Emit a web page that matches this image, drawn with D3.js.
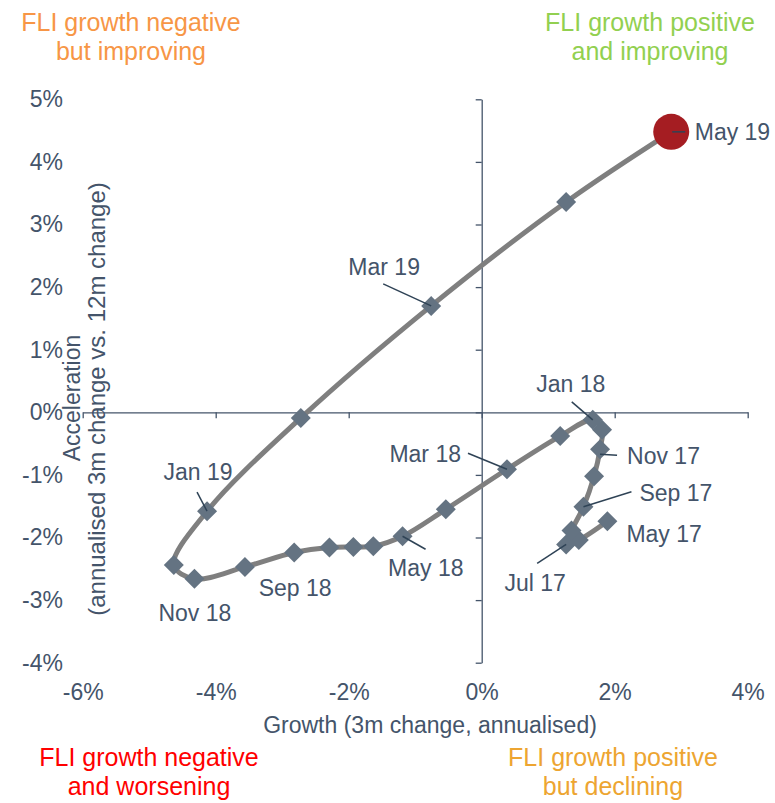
<!DOCTYPE html>
<html>
<head>
<meta charset="utf-8">
<script src="https://cdn.jsdelivr.net/npm/d3@7"></script>
<style>
  body { margin: 0; background: #fff; }
  svg text { font-family: "Liberation Sans", Arial, sans-serif; }
</style>
</head>
<body>
<svg id="chart" width="775" height="803"></svg>
<script>
// months along the path, oldest first
const months = ['May 17','Jun 17','Jul 17','Aug 17','Sep 17','Oct 17','Nov 17','Dec 17',
                'Jan 18','Feb 18','Mar 18','Apr 18','May 18','Jun 18','Jul 18','Aug 18',
                'Sep 18','Oct 18','Nov 18','Dec 18','Jan 19','Feb 19','Mar 19','Apr 19','May 19'];
// growth, 3m change annualised (%)
const growth = [1.89, 1.46, 1.27, 1.35, 1.53, 1.69, 1.78, 1.81,
                1.67, 1.18, 0.38, -0.54, -1.19, -1.63, -1.93, -2.29,
                -2.82, -3.56, -4.32, -4.63, -4.13, -2.72, -0.76, 1.27, 2.85];
// acceleration, 3m vs 12m change (%)
const accel = [-1.74, -2.04, -2.11, -1.89, -1.51, -1.02, -0.59, -0.28,
               -0.12, -0.38, -0.91, -1.55, -1.98, -2.14, -2.15, -2.16,
               -2.24, -2.47, -2.66, -2.44, -1.58, -0.09, 1.70, 3.36, 4.48];
const labelled = ['May 17','Jul 17','Sep 17','Nov 17','Jan 18','Mar 18','May 18',
                  'Sep 18','Nov 18','Jan 19','Mar 19','May 19'];
const xTicks = [-6, -4, -2, 0, 2, 4];
const yTicks = [-4, -3, -2, -1, 0, 1, 2, 3, 4, 5];

const svg = d3.select('#chart');
const textCol = '#44546a';
const fontSize = 23;

const x = d3.scaleLinear().domain([-6, 4]).range([82.7, 747.7]);
const y = d3.scaleLinear().domain([-4, 5]).range([662.7, 99.3]);

// axes crossing at origin
svg.append('g')
    .attr('transform', 'translate(0,' + y(0) + ')')
    .call(d3.axisBottom(x).tickValues(xTicks).tickSize(6).tickSizeOuter(0).tickFormat(''))
    .call(g => g.selectAll('path,line').attr('stroke', textCol).attr('stroke-width', 1.3));

svg.append('g')
    .attr('transform', 'translate(' + x(0) + ',0)')
    .call(d3.axisLeft(y).tickValues(yTicks).tickSize(6).tickSizeOuter(0).tickFormat(''))
    .call(g => g.selectAll('path,line').attr('stroke', textCol).attr('stroke-width', 1.3));

// tick labels at the chart edges
svg.append('g')
    .attr('transform', 'translate(0,' + y(-4) + ')')
    .call(d3.axisBottom(x).tickValues(xTicks).tickSize(0).tickPadding(21).tickFormat(d => d + '%'))
    .call(g => g.select('.domain').remove())
    .call(g => g.selectAll('text').attr('fill', textCol).attr('font-size', fontSize)
        .attr('font-family', '"Liberation Sans", Arial, sans-serif'));

svg.append('g')
    .attr('transform', 'translate(63,0)')
    .call(d3.axisLeft(y).tickValues(yTicks).tickSize(0).tickPadding(0).tickFormat(d => d + '%'))
    .call(g => g.select('.domain').remove())
    .call(g => g.selectAll('text').attr('fill', textCol).attr('font-size', fontSize)
        .attr('font-family', '"Liberation Sans", Arial, sans-serif'));

// axis titles
svg.append('text').attr('x', 430).attr('y', 733).attr('text-anchor', 'middle')
    .attr('fill', textCol).attr('font-size', fontSize)
    .text('Growth (3m change, annualised)');

svg.append('text').attr('transform', 'translate(80,398) rotate(-90)').attr('text-anchor', 'middle')
    .attr('fill', textCol).attr('font-size', fontSize).text('Acceleration');
svg.append('text').attr('transform', 'translate(105,399) rotate(-90)').attr('text-anchor', 'middle')
    .attr('fill', textCol).attr('font-size', 24).text('(annualised 3m change vs.  12m change)');

// quadrant captions
const quads = [
    {lines: ['FLI growth negative', 'but improving'], cx: 131, y0: 31, col: '#f79646'},
    {lines: ['FLI growth positive', 'and improving'], cx: 650, y0: 31, col: '#92d050'},
    {lines: ['FLI growth negative', 'and worsening'], cx: 149, y0: 766, col: '#ff0000'},
    {lines: ['FLI growth positive', 'but declining'], cx: 613, y0: 766, col: '#eda531'}
];
quads.forEach(q => {
    q.lines.forEach((t, i) => {
        svg.append('text').attr('x', q.cx).attr('y', q.y0 + i * 29)
            .attr('text-anchor', 'middle').attr('fill', q.col).attr('font-size', 25).text(t);
    });
});

const points = months.map((m, i) => ({name: m, gx: growth[i], ay: accel[i]}));

const line = d3.line().x(d => x(d.gx)).y(d => y(d.ay)).curve(d3.curveCatmullRom.alpha(0.5));
svg.append('path').datum(points).attr('d', line)
    .attr('fill', 'none').attr('stroke', '#7f7f7f').attr('stroke-width', 5);

const r = 10;
svg.selectAll('.marker').data(points.slice(0, -1)).enter().append('path')
    .attr('class', 'marker')
    .attr('d', 'M0,' + (-r) + 'L' + r + ',0L0,' + r + 'L' + (-r) + ',0Z')
    .attr('transform', d => 'translate(' + x(d.gx) + ',' + y(d.ay) + ')')
    .attr('fill', '#647382');

const last = points[points.length - 1];
svg.append('circle').attr('cx', x(last.gx)).attr('cy', y(last.ay)).attr('r', 18)
    .attr('fill', '#a51d22');

// label placement relative to its point: text offset, anchor, leader from a to b
const labelPos = {
    'May 19': {dx: 23.5, dy: 8, anchor: 'start', a: [1, 0], b: [14, 0]},
    'Mar 19': {dx: -47, dy: -31, anchor: 'middle', a: [-48, -22], b: [0, 0]},
    'Jan 18': {dx: -22, dy: -28, anchor: 'middle', a: [-21, -18], b: [0, 0]},
    'Nov 17': {dx: 27, dy: 15, anchor: 'start', a: [0, 5], b: [17, 6]},
    'Sep 17': {dx: 56, dy: -6, anchor: 'start', a: [0, 0], b: [48, -15]},
    'May 17': {dx: 19, dy: 21, anchor: 'start'},
    'Jul 17': {dx: -31, dy: 47, anchor: 'middle', a: [-29, 19], b: [0, 0]},
    'Mar 18': {dx: -46, dy: -7, anchor: 'end', a: [-39, -16], b: [0, 0]},
    'May 18': {dx: -14.5, dy: 40, anchor: 'start', a: [0, 0], b: [23, 13]},
    'Sep 18': {dx: 1, dy: 43.5, anchor: 'middle'},
    'Nov 18': {dx: 0.5, dy: 42, anchor: 'middle'},
    'Jan 19': {dx: -9, dy: -31, anchor: 'middle', a: [-10, -19], b: [0, 0]}
};

const tagged = points.filter(p => labelled.includes(p.name));

svg.selectAll('.leader').data(tagged.filter(p => labelPos[p.name].a)).enter().append('line')
    .attr('class', 'leader')
    .attr('x1', p => x(p.gx) + labelPos[p.name].a[0])
    .attr('y1', p => y(p.ay) + labelPos[p.name].a[1])
    .attr('x2', p => x(p.gx) + labelPos[p.name].b[0])
    .attr('y2', p => y(p.ay) + labelPos[p.name].b[1])
    .attr('stroke', '#2f4356').attr('stroke-width', 1.5);

svg.selectAll('.lbl').data(tagged).enter().append('text')
    .attr('class', 'lbl')
    .attr('x', p => x(p.gx) + labelPos[p.name].dx)
    .attr('y', p => y(p.ay) + labelPos[p.name].dy)
    .attr('text-anchor', p => labelPos[p.name].anchor)
    .attr('fill', textCol).attr('font-size', fontSize)
    .text(p => p.name);
</script>
</body>
</html>
